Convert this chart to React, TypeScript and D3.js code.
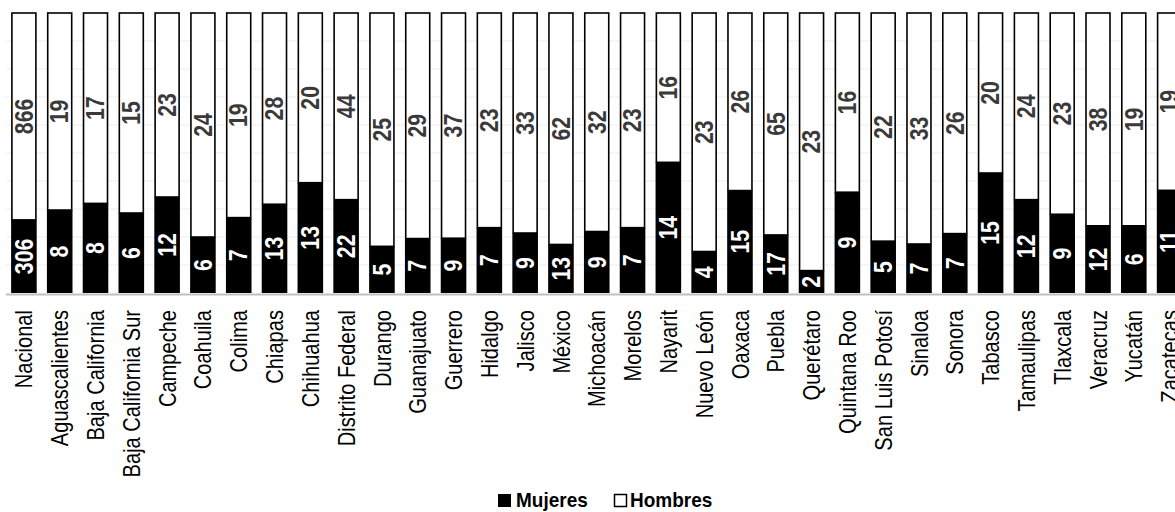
import * as d3 from "d3";

const WIDTH = 1175;
const HEIGHT = 512;

const categories = [
  "Nacional", "Aguascalientes", "Baja California", "Baja California Sur", "Campeche",
  "Coahuila", "Colima", "Chiapas", "Chihuahua", "Distrito Federal", "Durango",
  "Guanajuato", "Guerrero", "Hidalgo", "Jalisco", "México", "Michoacán", "Morelos",
  "Nayarit", "Nuevo León", "Oaxaca", "Puebla", "Querétaro", "Quintana Roo",
  "San Luis Potosí", "Sinaloa", "Sonora", "Tabasco", "Tamaulipas", "Tlaxcala",
  "Veracruz", "Yucatán", "Zacatecas",
];

const mujeres = [306, 8, 8, 6, 12, 6, 7, 13, 13, 22, 5, 7, 9, 7, 9, 13, 9, 7, 14, 4, 15, 17, 2, 9, 5, 7, 7, 15, 12, 9, 12, 6, 11];
const hombres = [866, 19, 17, 15, 23, 24, 19, 28, 20, 44, 25, 29, 37, 23, 33, 62, 32, 23, 16, 23, 26, 65, 23, 16, 22, 33, 26, 20, 24, 23, 38, 19, 19];

const gridTicks = [0.1, 0.2, 0.3, 0.4, 0.5, 0.6, 0.7, 0.8, 0.9];

const PLOT = { top: 13, bottom: 293, left: 6, right: 1187.5 };
const FONT = '"Liberation Sans", Arial, sans-serif';
// no Arial Narrow here, so squeeze Liberation Sans along the text direction
const NARROW = 0.82;

export default function App() {
  const x = d3
    .scaleBand<string>()
    .domain(categories)
    .range([PLOT.left, PLOT.right])
    .paddingInner(0.33)
    .paddingOuter(0.165);

  const y = d3.scaleLinear().domain([0, 1]).range([PLOT.bottom, PLOT.top]);

  const rows = categories.map((c, i) => {
    const total = mujeres[i] + hombres[i];
    return { c, m: mujeres[i], h: hombres[i], share: mujeres[i] / total };
  });

  const bw = x.bandwidth();

  return (
    <div style={{ position: "absolute", left: 0, top: 0, width: WIDTH, height: HEIGHT, overflow: "hidden", background: "#fff" }}>
      <svg width={WIDTH} height={HEIGHT} style={{ display: "block" }}>
        {/* faint gridlines */}
        {gridTicks.map((t) => (
          <line key={t} x1={PLOT.left} x2={WIDTH} y1={y(t)} y2={y(t)} stroke="#ededed" strokeWidth={1} />
        ))}

        {rows.map((d) => {
          const x0 = x(d.c)!;
          const cx = x0 + bw / 2;
          const yMid = y(d.share);
          return (
            <g key={d.c}>
              <rect x={x0} y={y(1)} width={bw} height={yMid - y(1)} fill="#fff" stroke="#000" strokeWidth={1.6} />
              <rect x={x0 - 0.8} y={yMid} width={bw + 1.6} height={y(0) - yMid} fill="#000" />
              <text
                transform={`translate(${cx},${(y(1) + yMid) / 2}) rotate(-90) scale(0.85,1)`}
                dy="0.35em"
                textAnchor="middle"
                fontFamily={FONT}
                fontWeight="bold"
                fontSize={25}
                fill="#3a3a3a"
              >
                {d.h}
              </text>
              <text
                transform={`translate(${cx},${(yMid + y(0)) / 2}) rotate(-90) scale(0.85,1)`}
                dy="0.35em"
                textAnchor="middle"
                fontFamily={FONT}
                fontWeight="bold"
                fontSize={25}
                fill="#fff"
              >
                {d.m}
              </text>
              <text
                transform={`translate(${cx},310) rotate(-90) scale(${NARROW},1)`}
                dy="0.35em"
                textAnchor="end"
                fontFamily={FONT}
                fontSize={24.5}
                fill="#000"
              >
                {d.c}
              </text>
            </g>
          );
        })}

        {/* category axis */}
        <line x1={PLOT.left} x2={WIDTH} y1={y(0) + 1.5} y2={y(0) + 1.5} stroke="#bfbfbf" strokeWidth={2} />

        {/* legend */}
        <g fontFamily={FONT} fontSize={20} fontWeight="bold" fill="#000">
          <rect x={498} y={494} width={13} height={13} fill="#000" />
          <text transform="translate(516,507) scale(0.95,1)">Mujeres</text>
          <rect x={614.5} y={494.5} width={12} height={12} fill="#fff" stroke="#000" strokeWidth={1.5} />
          <text transform="translate(630,507) scale(0.95,1)">Hombres</text>
        </g>
      </svg>
    </div>
  );
}
